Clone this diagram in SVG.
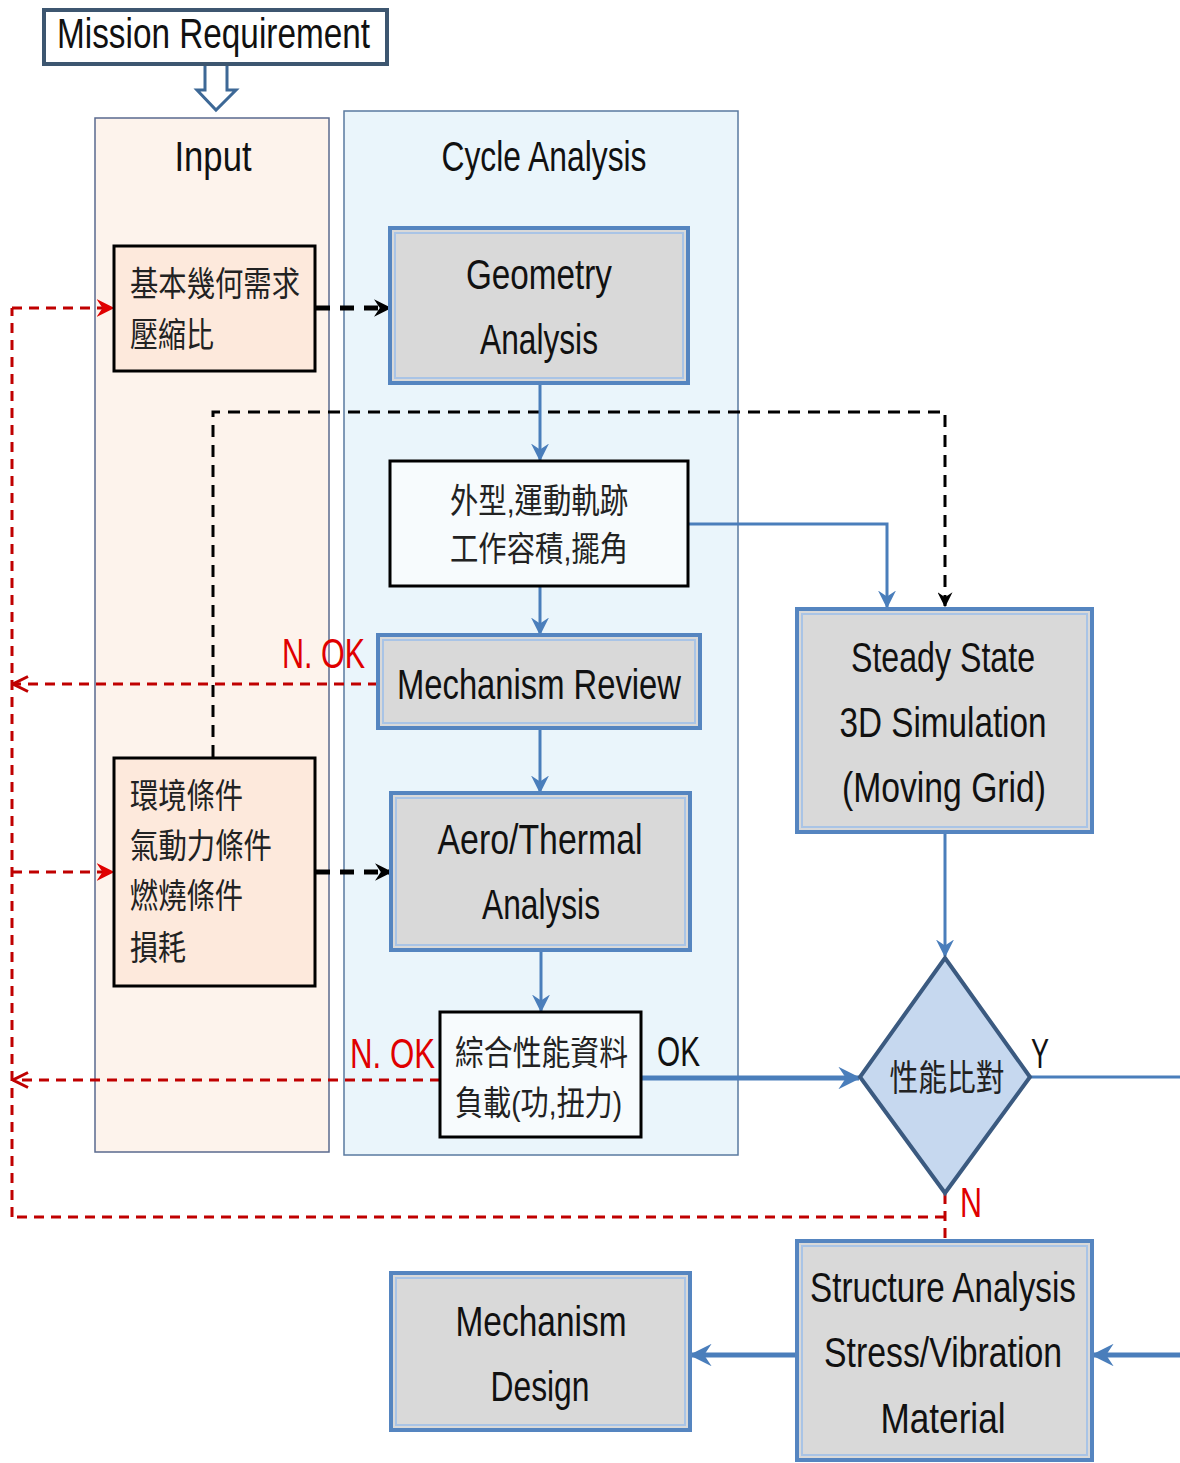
<svg xmlns="http://www.w3.org/2000/svg" width="1180" height="1463" viewBox="0 0 1180 1463">
<style>
.en{font-family:"Liberation Sans","Noto Sans",sans-serif;fill:#111;}
.cjk{font-family:"Liberation Sans","Noto Sans CJK TC",sans-serif;fill:#222;}
.red{fill:#e00000;}
.bb{fill:#d9d9d9;stroke:#5585c0;stroke-width:4;}
.bi{fill:none;stroke:#a9c4e6;stroke-width:2;}
.wb{fill:#f7fbfd;stroke:#000;stroke-width:3;}
.pb{fill:#fde9dc;stroke:#000;stroke-width:3;}
.blue{fill:none;stroke:#4a7ebb;stroke-width:3;}
.blueT{fill:none;stroke:#4a7ebb;stroke-width:5;}
.bdash{fill:none;stroke:#000;stroke-width:5;stroke-dasharray:14 10;}
.bdash2{fill:none;stroke:#000;stroke-width:3;stroke-dasharray:12 8;}
.rdash{fill:none;stroke:#c00000;stroke-width:3;stroke-dasharray:10 7;}
</style>
<defs>
<marker id="ab" viewBox="0 0 12 12" refX="11" refY="6" markerWidth="6" markerHeight="6" orient="auto" markerUnits="strokeWidth">
<path d="M0,0 L12,6 L0,12 L4,6 z" fill="#4a7ebb"/>
</marker>
<marker id="abT" viewBox="0 0 12 12" refX="11" refY="6" markerWidth="4.5" markerHeight="4.5" orient="auto" markerUnits="strokeWidth">
<path d="M0,0 L12,6 L0,12 L4,6 z" fill="#4a7ebb"/>
</marker>
<marker id="ak" viewBox="0 0 12 12" refX="11" refY="6" markerWidth="3.5" markerHeight="3.5" orient="auto" markerUnits="strokeWidth">
<path d="M0,0 L12,6 L0,12 L4,6 z" fill="#000"/>
</marker>
<marker id="ak2" viewBox="0 0 12 12" refX="11" refY="6" markerWidth="5" markerHeight="5" orient="auto" markerUnits="strokeWidth">
<path d="M0,0 L12,6 L0,12 L4,6 z" fill="#000"/>
</marker>
<marker id="ar" viewBox="0 0 12 12" refX="11" refY="6" markerWidth="6" markerHeight="6" orient="auto" markerUnits="strokeWidth">
<path d="M1,1 L11,6 L1,11" fill="none" stroke="#c00000" stroke-width="2"/>
</marker>
<marker id="arf" viewBox="0 0 12 12" refX="11" refY="6" markerWidth="6" markerHeight="6" orient="auto" markerUnits="strokeWidth">
<path d="M0,0 L12,6 L0,12 L4,6 z" fill="#e00000"/>
</marker>
</defs>

<rect width="1180" height="1463" fill="#ffffff"/>

<!-- panels -->
<g id="panel-input">
<rect x="95" y="118" width="234" height="1034" fill="#fdf3ec" stroke="#5a6a8e" stroke-width="1.5"/>
<text class="en" x="213" y="171" font-size="43" text-anchor="middle" textLength="77" lengthAdjust="spacingAndGlyphs">Input</text>
</g>
<g id="panel-cycle">
<rect x="344" y="111" width="394" height="1044" fill="#eaf5fb" stroke="#5a7aa0" stroke-width="1.5"/>
<text class="en" x="544" y="171" font-size="43" text-anchor="middle" textLength="205" lengthAdjust="spacingAndGlyphs">Cycle Analysis</text>
</g>

<!-- connectors -->
<g id="connectors">
<!-- mission block arrow -->
<path d="M205,62 L227,62 L227,90 L236,90 L216,110 L197,90 L205,90 Z" fill="#ffffff" stroke="#3d6896" stroke-width="3" stroke-linejoin="miter"/>
<!-- black dashed -->
<line class="bdash" x1="316" y1="308" x2="390" y2="308" marker-end="url(#ak)"/>
<line class="bdash" x1="316" y1="872" x2="391" y2="872" marker-end="url(#ak)"/>
<path class="bdash2" d="M213,757 L213,412 L945,412 L945,606" marker-end="url(#ak2)"/>
<!-- blue flow -->
<line class="blue" x1="540" y1="383" x2="540" y2="460" marker-end="url(#ab)"/>
<line class="blue" x1="540" y1="586" x2="540" y2="634" marker-end="url(#ab)"/>
<line class="blue" x1="540" y1="728" x2="540" y2="792" marker-end="url(#ab)"/>
<line class="blue" x1="541" y1="950" x2="541" y2="1011" marker-end="url(#ab)"/>
<path class="blue" d="M688,524 L887,524 L887,607" marker-end="url(#ab)"/>
<line class="blue" x1="945" y1="832" x2="945" y2="956" marker-end="url(#ab)"/>
<line class="blueT" x1="641" y1="1078" x2="859" y2="1078" marker-end="url(#abT)"/>
<path class="blue" d="M1030,1077 L1183,1077"/>
<line class="blueT" x1="1183" y1="1355" x2="1093" y2="1355" marker-end="url(#abT)"/>
<line class="blueT" x1="797" y1="1355" x2="691" y2="1355" marker-end="url(#abT)"/>
<!-- red dashed -->
<path class="rdash" d="M12,1217 L12,308"/>
<line class="rdash" x1="12" y1="308" x2="113" y2="308" marker-end="url(#arf)"/>
<line class="rdash" x1="12" y1="872" x2="113" y2="872" marker-end="url(#arf)"/>
<line class="rdash" x1="378" y1="684" x2="13" y2="684" marker-end="url(#ar)"/>
<line class="rdash" x1="440" y1="1080" x2="13" y2="1080" marker-end="url(#ar)"/>
<path class="rdash" d="M945,1194 L945,1242"/>
<path class="rdash" d="M945,1217 L12,1217"/>
</g>

<!-- nodes -->
<g id="mission">
<rect x="44" y="10" width="343" height="54" fill="#ffffff" stroke="#3d5670" stroke-width="4"/>
<text class="en" x="57" y="48" font-size="42" textLength="313" lengthAdjust="spacingAndGlyphs">Mission Requirement</text>
</g>

<g id="n-basic">
<rect class="pb" x="114" y="246" width="201" height="125"/>
<text class="cjk" x="130" y="296" font-size="34" textLength="170" lengthAdjust="spacingAndGlyphs">基本幾何需求</text>
<text class="cjk" x="130" y="347" font-size="34" textLength="84" lengthAdjust="spacingAndGlyphs">壓縮比</text>
</g>

<g id="n-geometry">
<rect class="bb" x="390" y="228" width="298" height="155"/>
<rect class="bi" x="395" y="233" width="288" height="145"/>
<text class="en" x="539" y="289" font-size="42" text-anchor="middle" textLength="146" lengthAdjust="spacingAndGlyphs">Geometry</text>
<text class="en" x="539" y="354" font-size="42" text-anchor="middle" textLength="118" lengthAdjust="spacingAndGlyphs">Analysis</text>
</g>

<g id="n-shape">
<rect class="wb" x="390" y="461" width="298" height="125"/>
<text class="cjk" x="539" y="513" font-size="34" text-anchor="middle" textLength="178" lengthAdjust="spacingAndGlyphs">外型,運動軌跡</text>
<text class="cjk" x="539" y="561" font-size="34" text-anchor="middle" textLength="178" lengthAdjust="spacingAndGlyphs">工作容積,擺角</text>
</g>

<g id="n-review">
<rect class="bb" x="378" y="635" width="322" height="93"/>
<rect class="bi" x="383" y="640" width="312" height="83"/>
<text class="en" x="539" y="699" font-size="42" text-anchor="middle" textLength="284" lengthAdjust="spacingAndGlyphs">Mechanism Review</text>
</g>

<text class="en red" x="282" y="668" font-size="42" textLength="83" lengthAdjust="spacingAndGlyphs">N. OK</text>

<g id="n-env">
<rect class="pb" x="114" y="758" width="201" height="228"/>
<text class="cjk" x="130" y="808" font-size="34" textLength="113" lengthAdjust="spacingAndGlyphs">環境條件</text>
<text class="cjk" x="130" y="858" font-size="34" textLength="142" lengthAdjust="spacingAndGlyphs">氣動力條件</text>
<text class="cjk" x="130" y="908" font-size="34" textLength="113" lengthAdjust="spacingAndGlyphs">燃燒條件</text>
<text class="cjk" x="130" y="960" font-size="34" textLength="56" lengthAdjust="spacingAndGlyphs">損耗</text>
</g>

<g id="n-aero">
<rect class="bb" x="391" y="793" width="299" height="157"/>
<rect class="bi" x="396" y="798" width="289" height="147"/>
<text class="en" x="540" y="854" font-size="42" text-anchor="middle" textLength="205" lengthAdjust="spacingAndGlyphs">Aero/Thermal</text>
<text class="en" x="541" y="919" font-size="42" text-anchor="middle" textLength="118" lengthAdjust="spacingAndGlyphs">Analysis</text>
</g>

<g id="n-perf">
<rect class="wb" x="440" y="1012" width="201" height="125"/>
<text class="cjk" x="455" y="1065" font-size="34" textLength="173" lengthAdjust="spacingAndGlyphs">綜合性能資料</text>
<text class="cjk" x="455" y="1115" font-size="34" textLength="167" lengthAdjust="spacingAndGlyphs">負載(功,扭力)</text>
</g>

<text class="en red" x="350" y="1068" font-size="42" textLength="85" lengthAdjust="spacingAndGlyphs">N. OK</text>
<text class="en" x="657" y="1066" font-size="42" textLength="43" lengthAdjust="spacingAndGlyphs">OK</text>

<g id="n-steady">
<rect class="bb" x="797" y="609" width="295" height="223"/>
<rect class="bi" x="802" y="614" width="285" height="213"/>
<text class="en" x="943" y="672" font-size="42" text-anchor="middle" textLength="184" lengthAdjust="spacingAndGlyphs">Steady State</text>
<text class="en" x="943" y="737" font-size="42" text-anchor="middle" textLength="207" lengthAdjust="spacingAndGlyphs">3D Simulation</text>
<text class="en" x="944" y="802" font-size="42" text-anchor="middle" textLength="204" lengthAdjust="spacingAndGlyphs">(Moving Grid)</text>
</g>

<g id="n-compare">
<path d="M945,958 L1030,1077 L945,1193 L860,1077 Z" fill="#c6d8ef" stroke="#3b5a80" stroke-width="4" stroke-linejoin="miter"/>
<text class="cjk" x="947" y="1091" font-size="36" text-anchor="middle" fill="#000" textLength="115" lengthAdjust="spacingAndGlyphs">性能比對</text>
</g>

<text class="en" x="1031" y="1068" font-size="42" textLength="18" lengthAdjust="spacingAndGlyphs">Y</text>
<text class="en red" x="960" y="1217" font-size="42" textLength="22" lengthAdjust="spacingAndGlyphs">N</text>

<g id="n-structure">
<rect class="bb" x="797" y="1241" width="295" height="219"/>
<rect class="bi" x="802" y="1246" width="285" height="209"/>
<text class="en" x="943" y="1302" font-size="42" text-anchor="middle" textLength="266" lengthAdjust="spacingAndGlyphs">Structure Analysis</text>
<text class="en" x="943" y="1367" font-size="42" text-anchor="middle" textLength="238" lengthAdjust="spacingAndGlyphs">Stress/Vibration</text>
<text class="en" x="943" y="1433" font-size="42" text-anchor="middle" textLength="125" lengthAdjust="spacingAndGlyphs">Material</text>
</g>

<g id="n-mechdesign">
<rect class="bb" x="391" y="1273" width="299" height="157"/>
<rect class="bi" x="396" y="1278" width="289" height="147"/>
<text class="en" x="541" y="1336" font-size="42" text-anchor="middle" textLength="171" lengthAdjust="spacingAndGlyphs">Mechanism</text>
<text class="en" x="540" y="1401" font-size="42" text-anchor="middle" textLength="99" lengthAdjust="spacingAndGlyphs">Design</text>
</g>
</svg>
